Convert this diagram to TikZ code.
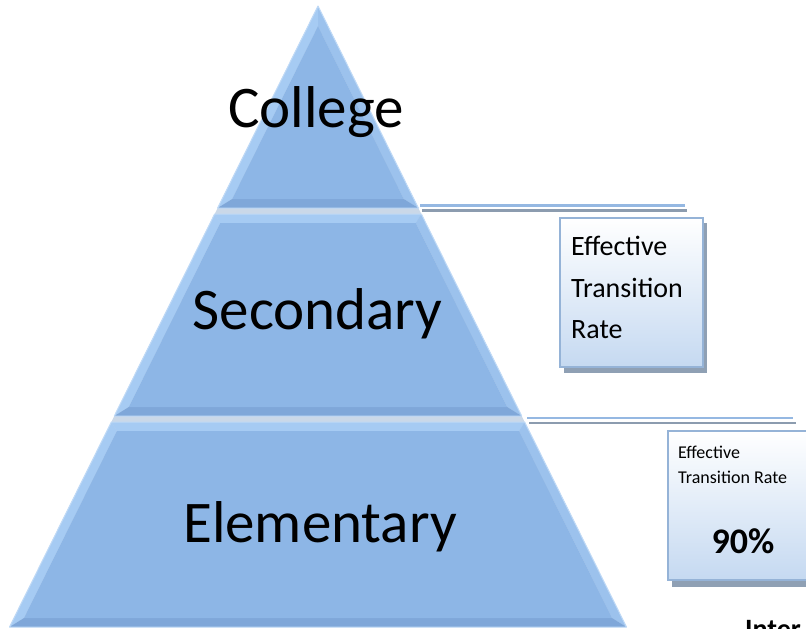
\documentclass[tikz,border=0pt]{standalone}
\usepackage{fontspec}
\setmainfont{Carlito}
\usetikzlibrary{calc}

\definecolor{pyrbase}{RGB}{141,182,230}
\definecolor{pyrlight}{RGB}{166,203,243}
\definecolor{pyrside}{RGB}{156,194,237}
\definecolor{pyrdark}{RGB}{127,167,217}
\definecolor{pyredge}{RGB}{192,218,246}
\definecolor{sepfill}{RGB}{202,216,232}
\definecolor{linkblue}{RGB}{149,184,226}
\definecolor{linkgray}{RGB}{140,156,175}
\definecolor{boxborder}{RGB}{149,179,215}
\definecolor{boxshadow}{RGB}{143,160,180}
\definecolor{boxbottom}{RGB}{197,217,241}

% pyramid geometry: apex, half-width per unit of height, bevel width
\def\pyrax{318}
\def\pyray{6}
\def\pyrk{0.4968}
\def\pyrbw{9}
\def\pyrbs{10.05}

% one bevelled layer of the pyramid: #1 top y, #2 bottom y, #3 inner top y, #4 name
\newcommand\pyrlayer[4]{%
  \pgfmathsetmacro\hwt{\pyrk*(#1-\pyray)}%
  \pgfmathsetmacro\hwb{\pyrk*(#2-\pyray)}%
  \pgfmathsetmacro\ibot{#2-\pyrbw}%
  \pgfmathsetmacro\hwit{max(\pyrk*(#3-\pyray)-\pyrbs,0)}%
  \pgfmathsetmacro\hwib{\pyrk*(\ibot-\pyray)-\pyrbs}%
  \coordinate (#4-oTL) at (\pyrax-\hwt,#1);
  \coordinate (#4-oTR) at (\pyrax+\hwt,#1);
  \coordinate (#4-oBR) at (\pyrax+\hwb,#2);
  \coordinate (#4-oBL) at (\pyrax-\hwb,#2);
  \coordinate (#4-iTL) at (\pyrax-\hwit,#3);
  \coordinate (#4-iTR) at (\pyrax+\hwit,#3);
  \coordinate (#4-iBR) at (\pyrax+\hwib,\ibot);
  \coordinate (#4-iBL) at (\pyrax-\hwib,\ibot);
  \fill[pyrlight] (#4-oTL) -- (#4-oTR) -- (#4-iTR) -- (#4-iTL) -- cycle;
  \fill[pyrlight] (#4-oTL) -- (#4-iTL) -- (#4-iBL) -- (#4-oBL) -- cycle;
  \fill[pyrside] (#4-oTR) -- (#4-iTR) -- (#4-iBR) -- (#4-oBR) -- cycle;
  \fill[pyrdark] (#4-oBL) -- (#4-iBL) -- (#4-iBR) -- (#4-oBR) -- cycle;
  \fill[pyrbase] (#4-iTL) -- (#4-iTR) -- (#4-iBR) -- (#4-iBL) -- cycle;
  \draw[pyredge, line width=1pt, line join=round]
    (#4-oTL) -- (#4-oTR) -- (#4-oBR) -- (#4-oBL) -- cycle;
}

\tikzset{
  level/.style={font=\fontsize{59}{59}\selectfont, inner sep=0pt, anchor=base},
  boxtext/.style={inner sep=0pt, anchor=base west},
  infobox/.style={draw=boxborder, line width=2pt, top color=white, bottom color=boxbottom},
  boxshade/.style={fill=boxshadow},
  linkline/.style={draw=linkblue, line width=2.4pt},
  linkshadow/.style={draw=linkgray, line width=2.4pt}
}

\begin{document}
\begin{tikzpicture}[x=1pt,y=-1pt]
\useasboundingbox (0,0) rectangle (806,629);

% light strips between the layers
\fill[sepfill] (\pyrax,\pyray) -- (\pyrax+308.5,627) -- (\pyrax-308.5,627) -- cycle;

\pyrlayer{6}{208}{26.2}{col}
\pyrlayer{214}{416}{223}{sec}
\pyrlayer{422}{627}{431}{ele}

\node[level] (college) at (316,127) {College};
\node[level] (secondary) at (317.5,329) {Secondary};
\node[level] (elementary) at (320,542) {Elementary};

% double lines leaving the layer edges
\coordinate (l1a) at (420,205.5);
\coordinate (l1b) at (685,205.5);
\coordinate (l1c) at (422,210.5);
\coordinate (l1d) at (687,210.5);
\draw[linkshadow] (l1c) -- (l1d);
\draw[linkline] (l1a) -- (l1b);

\coordinate (l2a) at (527,418);
\coordinate (l2b) at (793,418);
\coordinate (l2c) at (529,423);
\coordinate (l2d) at (796,423);
\draw[linkshadow] (l2c) -- (l2d);
\draw[linkline] (l2a) -- (l2b);

% upper box
\fill[boxshade] (564,223) rectangle (707,373);
\path[infobox] (560,218) rectangle (703,367);
\node[boxtext, font=\fontsize{28}{28}\selectfont] (t1a) at (571,255) {Effective};
\node[boxtext, font=\fontsize{28}{28}\selectfont] (t1b) at (571,297) {Transition};
\node[boxtext, font=\fontsize{28}{28}\selectfont] (t1c) at (571,338) {Rate};

% lower box
\fill[boxshade] (672,436) rectangle (840,587);
\path[infobox] (668,431) rectangle (836,580);
\node[boxtext, font=\fontsize{18}{18}\selectfont] (t2a) at (678,458) {Effective};
\node[boxtext, font=\fontsize{18}{18}\selectfont] (t2b) at (678,483) {Transition Rate};
\node[inner sep=0pt, anchor=base, font=\bfseries\fontsize{36}{36}\selectfont] (t2c) at (743,553) {90\%};

\node[boxtext, font=\bfseries\fontsize{28}{28}\selectfont] (inter) at (745,638) {Inter};
\end{tikzpicture}
\end{document}
